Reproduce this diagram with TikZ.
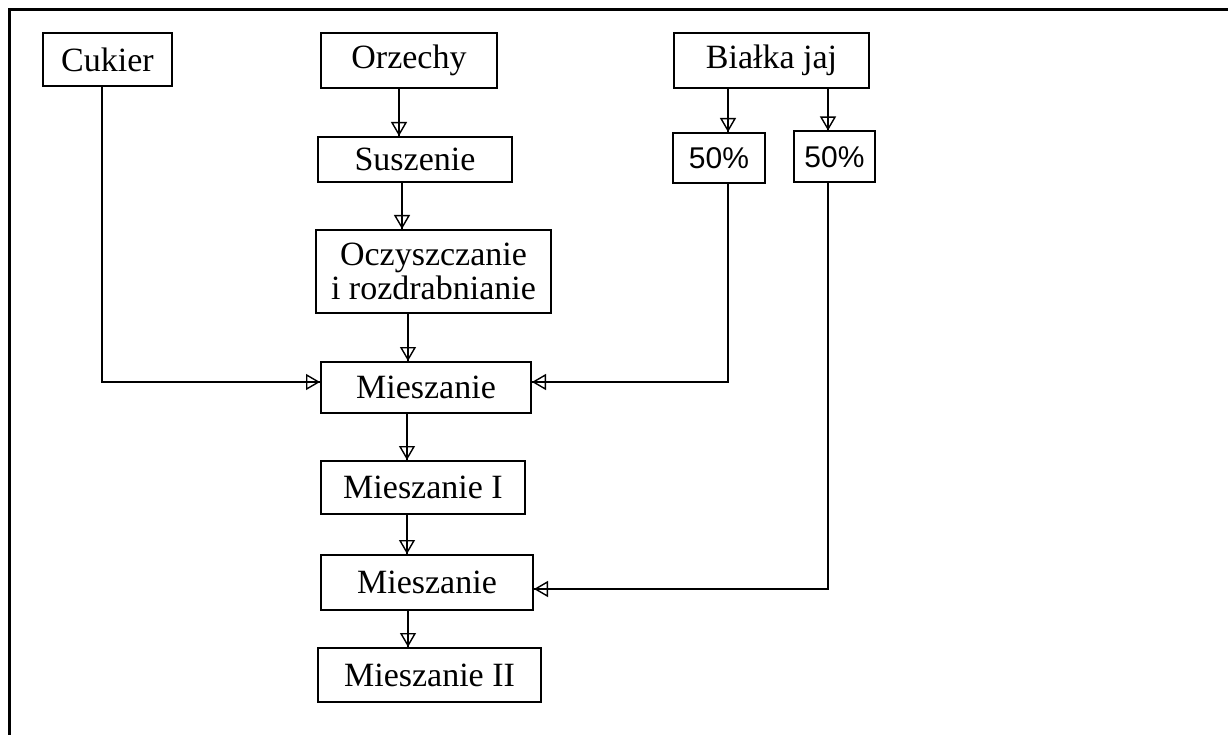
\documentclass[tikz,border=0pt]{standalone}
\usepackage{fontspec}
\setmainfont{Liberation Serif}
\newfontfamily\pctfont{Liberation Sans}
\usetikzlibrary{arrows.meta}
\begin{document}
\begin{tikzpicture}[x=1pt,y=-1pt,
  box/.style={draw,line width=2pt,inner sep=0pt,font=\fontsize{34}{34}\selectfont,align=center},
  pct/.style={box,font=\pctfont\fontsize{30}{30}\selectfont},
  flow/.style={line width=2pt,postaction={draw,line width=1.4pt,-{Triangle[open,length=14pt,width=16pt]}}}]
\useasboundingbox (0,0) rectangle (1228,735);
% frame
\draw[line width=3pt] (9,735) -- (9,10) -- (1228,10);
% nodes
\node[box,minimum width=129pt,minimum height=53pt] (cuk) at (107.5,59.5) {Cukier};
\node[box,minimum width=176pt,minimum height=55pt] (orz) at (409,60.5) {Orzechy};
\node[box,minimum width=195pt,minimum height=55pt] (bia) at (771.5,60.5) {Białka jaj};
\node[box,minimum width=194pt,minimum height=45pt] (sus) at (415,159.5) {Suszenie};
\node[pct,minimum width=92pt,minimum height=50pt] (p1) at (719,158) {50\%};
\node[pct,minimum width=81pt,minimum height=51pt] (p2) at (834.5,157) {50\%};
\node[box,minimum width=235pt,minimum height=83pt] (ocz) at (433.5,271.5) {Oczyszczanie\\i rozdrabnianie};
\node[box,minimum width=210pt,minimum height=51pt] (m1) at (426,387.5) {Mieszanie};
\node[box,minimum width=204pt,minimum height=53pt] (mI) at (423,487.5) {Mieszanie I};
\node[box,minimum width=212pt,minimum height=55pt] (m2) at (427,582.5) {Mieszanie};
\node[box,minimum width=223pt,minimum height=54pt] (mII) at (429.5,675) {Mieszanie II};
% column coordinates
\coordinate (c1) at (399,0);
\coordinate (c2) at (402,0);
\coordinate (c3) at (408,0);
\coordinate (c4) at (407,0);
\coordinate (cA) at (728,0);
\coordinate (cB) at (828,0);
\coordinate (cC) at (102,0);
\coordinate (r1) at (0,382);
\coordinate (r2) at (0,589);
% connectors
\draw[flow] (orz.south -| c1) -- (sus.north -| c1);
\draw[flow] (sus.south -| c2) -- (ocz.north -| c2);
\draw[flow] (ocz.south -| c3) -- (m1.north -| c3);
\draw[flow] (m1.south -| c4) -- (mI.north -| c4);
\draw[flow] (mI.south -| c4) -- (m2.north -| c4);
\draw[flow] (m2.south -| c3) -- (mII.north -| c3);
\draw[flow] (bia.south -| cA) -- (p1.north -| cA);
\draw[flow] (bia.south -| cB) -- (p2.north -| cB);
\draw[flow] (cuk.south -| cC) |- (m1.west |- r1);
\draw[flow] (p1.south -| cA) |- (m1.east |- r1);
\draw[flow] (p2.south -| cB) |- (m2.east |- r2);
\end{tikzpicture}
\end{document}
